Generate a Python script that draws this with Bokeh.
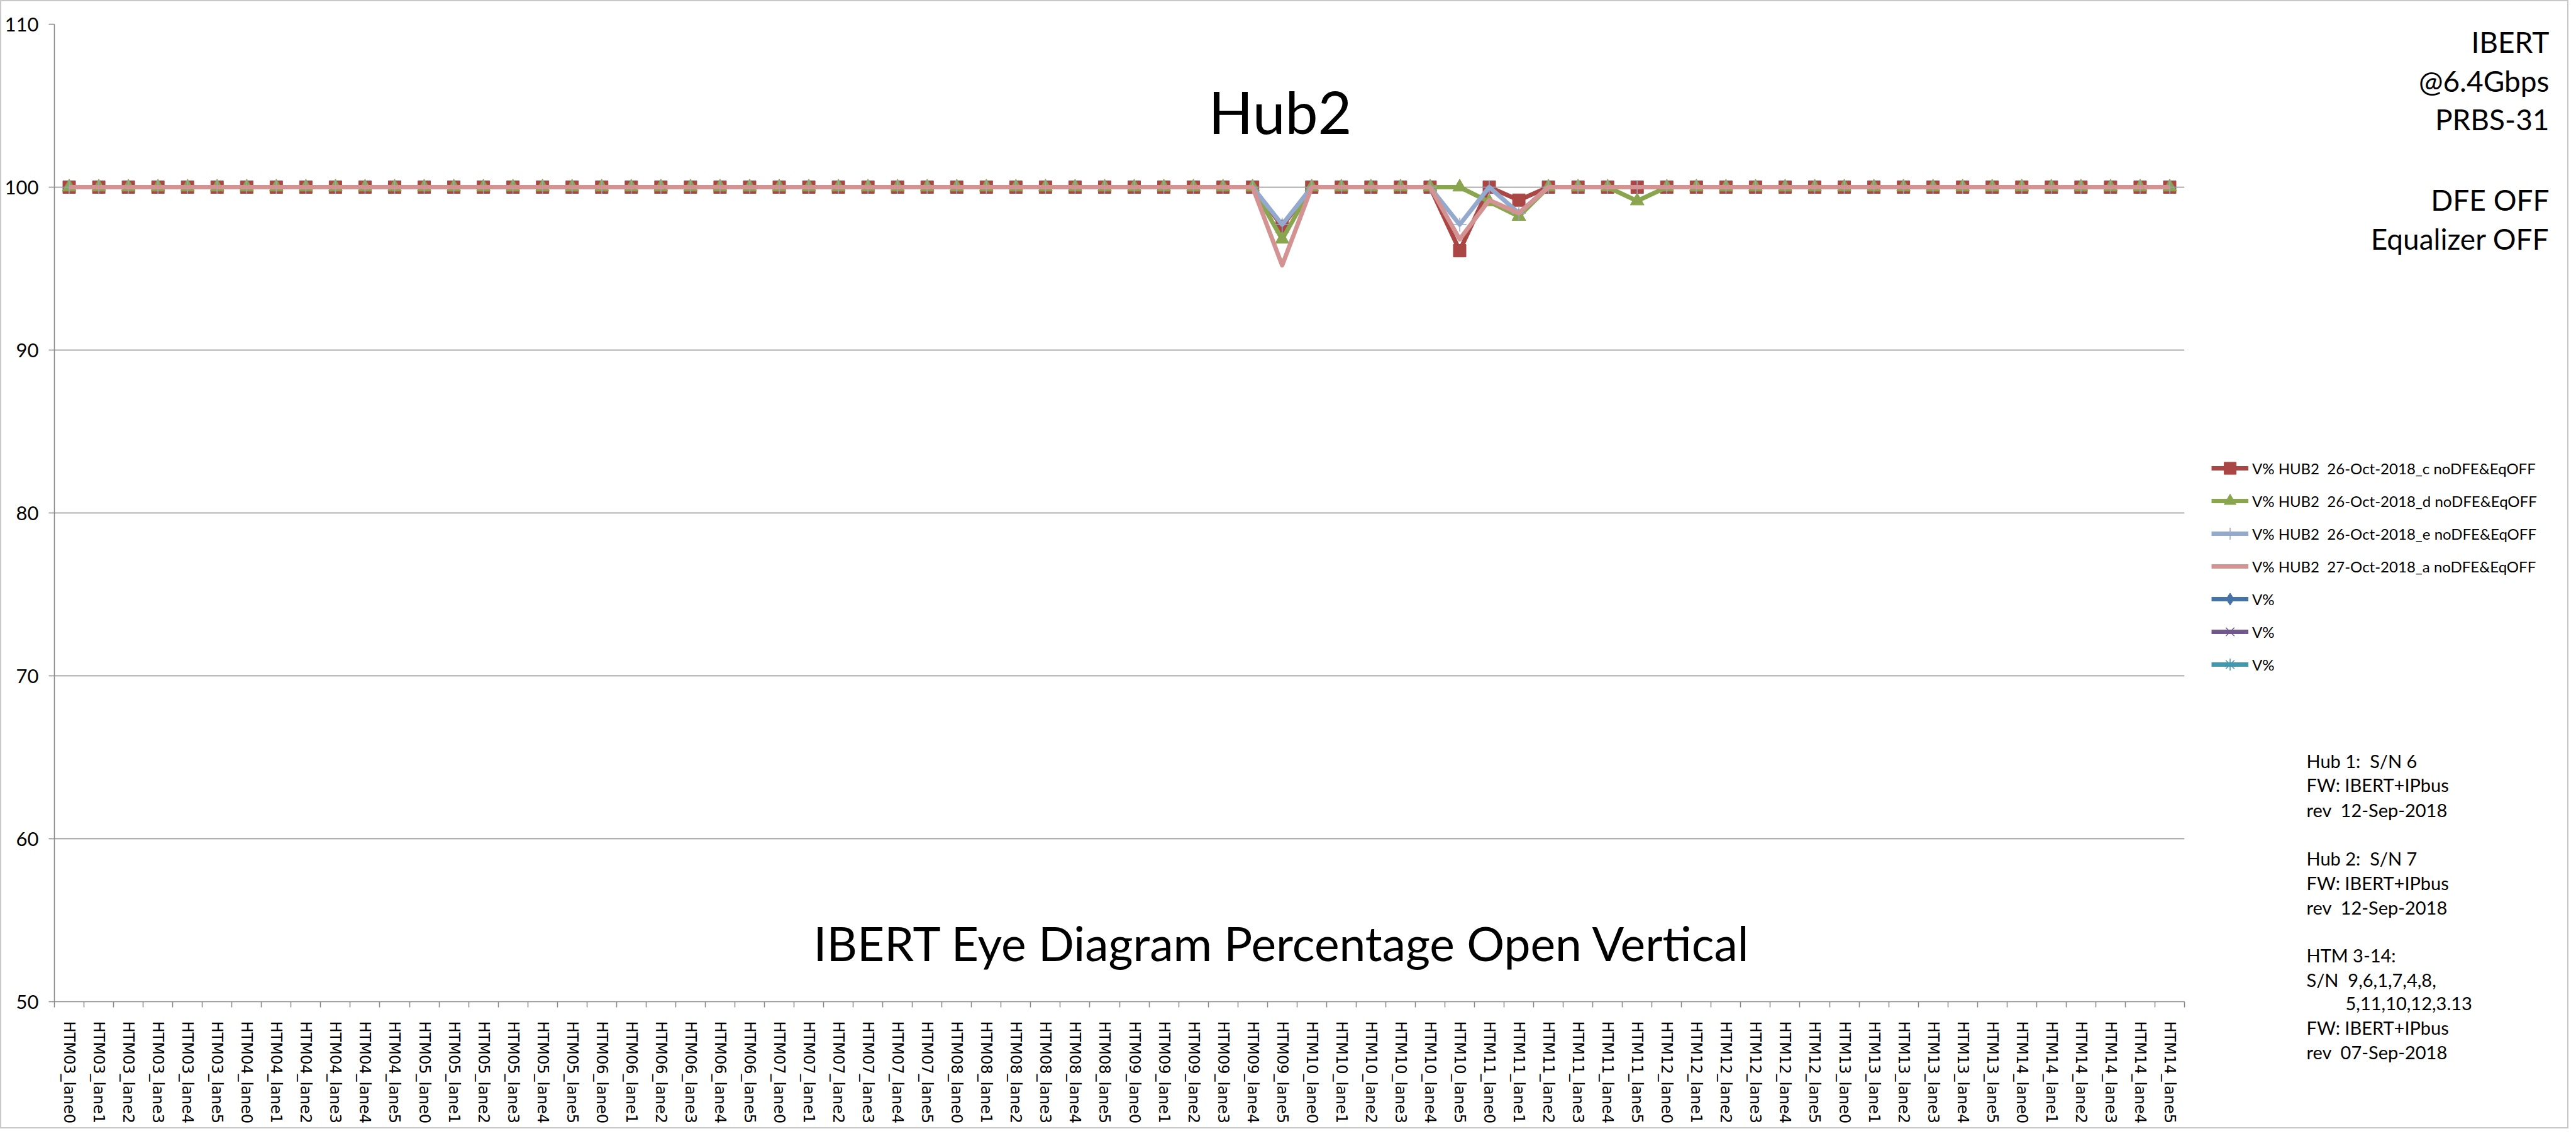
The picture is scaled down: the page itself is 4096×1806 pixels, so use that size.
import numpy as np
from bokeh.plotting import figure
from bokeh.layouts import row
from bokeh.models import (ColumnDataSource, Range1d, FixedTicker, Legend, LegendItem, Label)
from bokeh.embed import file_html
from bokeh.resources import INLINE

# ---------------- data ----------------
modules = ["HTM03", "HTM04", "HTM05", "HTM06", "HTM07", "HTM08",
           "HTM09", "HTM10", "HTM11", "HTM12", "HTM13", "HTM14"]
lanes = ["lane0", "lane1", "lane2", "lane3", "lane4", "lane5"]
categories = [m + "_" + l for m in modules for l in lanes]

y_ticks = [50, 60, 70, 80, 90, 100, 110]

# V% HUB2 26-Oct-2018_c noDFE&EqOFF
hub2_c = [
    100, 100, 100, 100, 100, 100,   # HTM03
    100, 100, 100, 100, 100, 100,   # HTM04
    100, 100, 100, 100, 100, 100,   # HTM05
    100, 100, 100, 100, 100, 100,   # HTM06
    100, 100, 100, 100, 100, 100,   # HTM07
    100, 100, 100, 100, 100, 100,   # HTM08
    100, 100, 100, 100, 100, 97.6,  # HTM09
    100, 100, 100, 100, 100, 96.1,  # HTM10
    100, 99.2, 100, 100, 100, 100,  # HTM11
    100, 100, 100, 100, 100, 100,   # HTM12
    100, 100, 100, 100, 100, 100,   # HTM13
    100, 100, 100, 100, 100, 100,   # HTM14
]
# V% HUB2 26-Oct-2018_d noDFE&EqOFF
hub2_d = [
    100, 100, 100, 100, 100, 100,
    100, 100, 100, 100, 100, 100,
    100, 100, 100, 100, 100, 100,
    100, 100, 100, 100, 100, 100,
    100, 100, 100, 100, 100, 100,
    100, 100, 100, 100, 100, 100,
    100, 100, 100, 100, 100, 96.8,
    100, 100, 100, 100, 100, 100,
    99.1, 98.2, 100, 100, 100, 99.15,
    100, 100, 100, 100, 100, 100,
    100, 100, 100, 100, 100, 100,
    100, 100, 100, 100, 100, 100,
]
# V% HUB2 26-Oct-2018_e noDFE&EqOFF
hub2_e = [
    100, 100, 100, 100, 100, 100,
    100, 100, 100, 100, 100, 100,
    100, 100, 100, 100, 100, 100,
    100, 100, 100, 100, 100, 100,
    100, 100, 100, 100, 100, 100,
    100, 100, 100, 100, 100, 100,
    100, 100, 100, 100, 100, 97.7,
    100, 100, 100, 100, 100, 97.7,
    100, 98.4, 100, 100, 100, 100,
    100, 100, 100, 100, 100, 100,
    100, 100, 100, 100, 100, 100,
    100, 100, 100, 100, 100, 100,
]
# V% HUB2 27-Oct-2018_a noDFE&EqOFF
hub2_a = [
    100, 100, 100, 100, 100, 100,
    100, 100, 100, 100, 100, 100,
    100, 100, 100, 100, 100, 100,
    100, 100, 100, 100, 100, 100,
    100, 100, 100, 100, 100, 100,
    100, 100, 100, 100, 100, 100,
    100, 100, 100, 100, 100, 95.2,
    100, 100, 100, 100, 100, 96.8,
    99.2, 98.4, 100, 100, 100, 100,
    100, 100, 100, 100, 100, 100,
    100, 100, 100, 100, 100, 100,
    100, 100, 100, 100, 100, 100,
]
# the three "V%" series are blank (no values in any category)
v_blank = [None] * 72

NB2 = "\u00a0\u00a0"
series_labels = [
    "V% HUB2" + NB2 + "26-Oct-2018_c noDFE&EqOFF",
    "V% HUB2" + NB2 + "26-Oct-2018_d noDFE&EqOFF",
    "V% HUB2" + NB2 + "26-Oct-2018_e noDFE&EqOFF",
    "V% HUB2" + NB2 + "27-Oct-2018_a noDFE&EqOFF",
    "V%", "V%", "V%",
]

right_notes = ["IBERT", "@6.4Gbps", "PRBS-31", "DFE OFF", "Equalizer OFF"]
hub_notes = ["Hub 1:" + NB2 + "S/N 6", "FW: IBERT+IPbus", "rev" + NB2 + "12-Sep-2018",
             "Hub 2:" + NB2 + "S/N 7", "FW: IBERT+IPbus", "rev" + NB2 + "12-Sep-2018",
             "HTM 3-14:", "S/N" + NB2 + "9,6,1,7,4,8,", "5,11,10,12,3.13",
             "FW: IBERT+IPbus", "rev" + NB2 + "07-Sep-2018"]

# ---------------- layout ----------------
W, H = 4080, 1790
MW = 3490              # width of the main chart part
SW = W - MW            # width of the right-hand notes / legend part
L, R, T, B = 84, 3471, 36, 1590
N = len(categories)
xs = [i + 0.5 for i in range(N)]

def px_x(px):
    return (px - L) / (R - L) * N

def px_y(py):
    return 110 - (py - T) / (B - T) * 60

p = figure(width=MW, height=H, output_backend="svg", toolbar_location=None,
           x_range=Range1d(0, N), y_range=Range1d(50, 110),
           min_border_left=L, min_border_right=MW - R,
           min_border_top=T, min_border_bottom=H - B)
p.frame_align = False
p.outline_line_color = None
p.background_fill_color = "white"
p.border_fill_color = "white"

GRAY = "#868686"
p.xgrid.visible = False
p.ygrid.ticker = FixedTicker(ticks=y_ticks)
p.ygrid.grid_line_color = GRAY
p.ygrid.grid_line_width = 1.5

ya = p.yaxis[0]
ya.ticker = FixedTicker(ticks=y_ticks)
ya.axis_line_color = GRAY
ya.axis_line_width = 1.5
ya.major_tick_line_color = GRAY
ya.major_tick_line_width = 1.5
ya.major_tick_out = 9
ya.major_tick_in = 0
ya.minor_tick_line_color = None
ya.major_label_standoff = 16
ya.major_label_text_font = "Lato"
ya.major_label_text_font_size = "31px"
ya.major_label_text_color = "black"

xa = p.xaxis[0]
xa.ticker = FixedTicker(ticks=xs, minor_ticks=list(range(N + 1)))
xa.major_label_overrides = {x: c for x, c in zip(xs, categories)}
xa.major_label_orientation = "vertical"
xa.axis_line_color = GRAY
xa.axis_line_width = 1.5
xa.major_tick_line_color = None
xa.major_tick_out = 0
xa.major_tick_in = 0
xa.minor_tick_line_color = GRAY
xa.minor_tick_line_width = 1.5
xa.minor_tick_out = 9
xa.minor_tick_in = 0
xa.major_label_standoff = 22
xa.major_label_text_font = "DejaVu Sans"
xa.major_label_text_font_size = "24px"
xa.major_label_text_color = "black"

# ---------------- series ----------------
LW = 7
RED, GREEN, LBLUE, PINK = "#AA4643", "#89A54E", "#94A9CE", "#D39392"
DBLUE, PURPLE, TEAL = "#4572A7", "#71588F", "#4198AF"

src_c = ColumnDataSource(dict(x=xs, y=hub2_c))
src_d = ColumnDataSource(dict(x=xs, y=hub2_d))
src_e = ColumnDataSource(dict(x=xs, y=hub2_e))
src_a = ColumnDataSource(dict(x=xs, y=hub2_a))
# blank values become NaN, so nothing is drawn for them
src_v = ColumnDataSource(dict(x=np.array(xs, dtype=float),
                              y=np.array(v_blank, dtype=float)))

p.line("x", "y", source=src_c, line_color=RED, line_width=LW, line_join="round")
p.scatter("x", "y", source=src_c, marker="square", size=20, color=RED)
p.line("x", "y", source=src_d, line_color=GREEN, line_width=LW, line_join="round")
p.scatter("x", "y", source=src_d, marker="triangle", size=22, color=GREEN)
p.line("x", "y", source=src_e, line_color=LBLUE, line_width=LW, line_join="round")
p.scatter("x", "y", source=src_e, marker="cross", size=22, line_color=LBLUE, line_width=1.5)
p.line("x", "y", source=src_a, line_color=PINK, line_width=LW, line_join="round")

def add_text(fig, txt, x, y, size, align="left"):
    fig.add_layout(Label(x=x, y=y, text=txt, text_font="Lato",
                         text_font_size=size, text_color="black",
                         text_align=align, text_baseline="alphabetic"))

add_text(p, "Hub2", px_x(2033), px_y(174), "93px", "center")
add_text(p, "IBERT Eye Diagram Percentage Open Vertical",
         px_x(2037), px_y(1496), "75px", "center")

# ---------------- right-hand part: legend and notes ----------------
# frame covers the whole part, flipped so that data y == page pixel y
s = figure(width=SW, height=H, output_backend="svg", toolbar_location=None,
           x_range=Range1d(0, SW), y_range=Range1d(H, 0),
           x_axis_location=None, y_axis_location=None,
           min_border=0, min_border_left=0, min_border_right=0,
           min_border_top=0, min_border_bottom=0)
s.frame_align = False
s.outline_line_color = None
s.grid.visible = False
s.background_fill_color = "white"
s.border_fill_color = "white"

# legend swatches: blank copies of each series' style (nothing is drawn in the frame)
c_l = s.line("x", "y", source=src_v, line_color=RED, line_width=LW)
c_m = s.scatter("x", "y", source=src_v, marker="square", size=20, color=RED)
d_l = s.line("x", "y", source=src_v, line_color=GREEN, line_width=LW)
d_m = s.scatter("x", "y", source=src_v, marker="triangle", size=22, color=GREEN)
e_l = s.line("x", "y", source=src_v, line_color=LBLUE, line_width=LW)
e_m = s.scatter("x", "y", source=src_v, marker="cross", size=22, line_color=LBLUE, line_width=1.5)
a_l = s.line("x", "y", source=src_v, line_color=PINK, line_width=LW)
v1_l = s.line("x", "y", source=src_v, line_color=DBLUE, line_width=LW)
v1_m = s.scatter("x", "y", source=src_v, marker="diamond", size=20, color=DBLUE)
v2_l = s.line("x", "y", source=src_v, line_color=PURPLE, line_width=LW)
v2_m = s.scatter("x", "y", source=src_v, marker="x", size=20, line_color=PURPLE, line_width=1.5)
v3_l = s.line("x", "y", source=src_v, line_color=TEAL, line_width=LW)
v3_m = s.scatter("x", "y", source=src_v, marker="asterisk", size=20, line_color=TEAL, line_width=1.5)

legend = Legend(items=[
    LegendItem(label=series_labels[0], renderers=[c_l, c_m]),
    LegendItem(label=series_labels[1], renderers=[d_l, d_m]),
    LegendItem(label=series_labels[2], renderers=[e_l, e_m]),
    LegendItem(label=series_labels[3], renderers=[a_l]),
    LegendItem(label=series_labels[4], renderers=[v1_l, v1_m]),
    LegendItem(label=series_labels[5], renderers=[v2_l, v2_m]),
    LegendItem(label=series_labels[6], renderers=[v3_l, v3_m]),
], location=(3514 - MW, H - 1078))
legend.padding = 0
legend.margin = 0
legend.spacing = 4
legend.glyph_height = 48
legend.glyph_width = 59
legend.label_height = 48
legend.label_standoff = 6
legend.border_line_color = None
legend.background_fill_alpha = 0
legend.label_text_font = "Lato"
legend.label_text_font_size = "24px"
legend.label_text_color = "black"
s.add_layout(legend)

for txt, by in zip(right_notes, [64, 126, 187, 315, 377]):
    add_text(s, txt, 4051 - MW, by, "46px", "right")

hub_y = [1207, 1245, 1285, 1362, 1401, 1440, 1516, 1555, 1593, 1631, 1670]
for i, (txt, by) in enumerate(zip(hub_notes, hub_y)):
    x0 = 3727 if i == 8 else 3665
    add_text(s, txt, x0 - MW, by, "29px")

page = row(p, s)
page.styles = {"border": "2px solid #C8C8C8"}

open("out.html", "w").write(file_html(page, INLINE))
